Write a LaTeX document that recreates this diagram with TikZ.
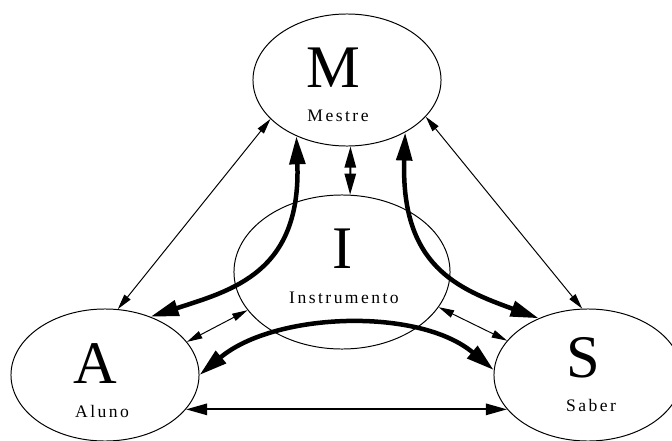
\documentclass[tikz,border=0pt]{standalone}
\usepackage{fontspec}
\setmainfont{Liberation Serif}
\usetikzlibrary{shapes.geometric,arrows.meta}

\begin{document}
\begin{tikzpicture}[x = 0.025cm, y = -0.025cm, line width = 0.7pt,
    pole/.style = {ellipse, draw, minimum width = 4.7cm, minimum height = 3.3cm},
    big/.style = {anchor = base, inner sep = 0pt, font = \fontsize{43}{43}\selectfont},
    word/.style = {anchor = base, inner sep = 0pt,
                   font = \fontsize{12.5}{12.5}\selectfont\addfontfeatures{LetterSpace=14}},
    link/.style = {line width = 0.7pt, >={Triangle[length = 11pt, width = 5.5pt]}, <->},
    mid/.style = {line width = 1.4pt, >={Triangle[length = 15pt, width = 8pt]}, <->},
    flow/.style = {line width = 3.2pt, >={Triangle[length = 20pt, width = 11pt]}, <->}]
  \useasboundingbox (0, 0) rectangle (672, 441);
  \node [pole] (M) at (347, 80) {};
  \node [pole, minimum width = 5.4cm, minimum height = 3.85cm] (I) at (342, 272) {};
  \node [pole] (A) at (105, 375) {};
  \node [pole] (S) at (588, 375) {};
  \node [big] (Mt) at (333, 87) {M};
  \node [word] (Mw) at (338, 121) {Mestre};
  \node [big] (It) at (343, 268) {I};
  \node [word] (Iw) at (344, 303) {Instrumento};
  \node [big] (At) at (95, 383) {A};
  \node [word] (Aw) at (102, 417) {Aluno};
  \node [big] (St) at (583, 377) {S};
  \node [word] (Sw) at (591, 411) {Saber};
  \draw [link] (M.207) -- (A.79);
  \draw [link] (M.335) -- (S.95);
  \draw [link] (A.22) -- (I.202);
  \draw [link] (S.157) -- (I.340);
  \draw [mid] (M.-87) -- (I.84);
  \draw [mid] (A.-23) -- (S.203);
  \draw [flow] (M.228) to [out = -88, in = 18, out looseness = 1.5, in looseness = 0.95] (A.52);
  \draw [flow] (M.318) to [out = -92, in = 160, out looseness = 1.5, in looseness = 0.95] (S.131);
  \draw [flow] (A.0) to [out = 40, in = 140, looseness = 0.85] (S.177);
\end{tikzpicture}
\end{document}
